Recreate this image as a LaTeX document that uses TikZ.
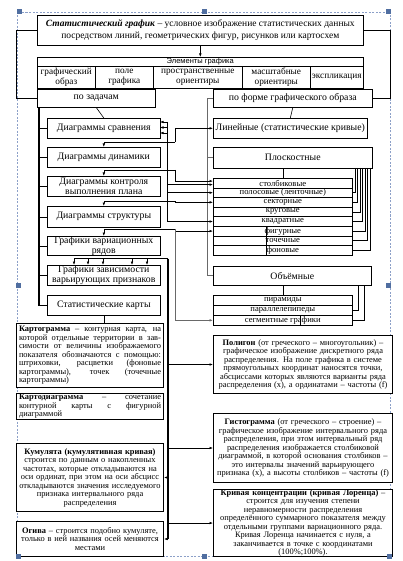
\documentclass[tikz,border=0pt]{standalone}
\usepackage{fontspec}
\setmainfont{Liberation Serif}
\newfontfamily\arialf{Liberation Sans}
\usetikzlibrary{arrows.meta,calc}
\definecolor{framec}{RGB}{140,160,200}
\definecolor{handlec}{RGB}{80,110,160}
\definecolor{gline}{RGB}{105,105,105}
\begin{document}
\begin{tikzpicture}[x=1pt,y=-1pt,
 box/.style={draw=black,line width=0.6pt,fill=white,inner sep=0pt,anchor=north west,align=center},
 lbox/.style={draw=black,line width=1pt,fill=white,inner xsep=2.5pt,inner ysep=0pt,anchor=north west},
 conn/.style={line width=0.6pt,black},
 arr/.style={conn,-{Latex[length=3.5pt,width=2.6pt]}},
 garr/.style={line width=1pt,gline,-{Latex[length=3.5pt,width=2.6pt]}},
 gconn/.style={line width=1pt,gline},
 heavy/.style={line width=1.4pt,black},
 fT/.style={font=\fontsize{9.5}{12}\selectfont},
 fE/.style={font=\fontsize{9.3}{9.8}\selectfont},
 fB/.style={font=\fontsize{9.8}{9.8}\selectfont},
 fR/.style={font=\fontsize{8.6}{9}\selectfont},
 fS/.style={font=\fontsize{8.4}{8.5}\selectfont},
 frame/.style={draw=framec,dash pattern=on 2pt off 1.5pt,line width=0.6pt},
 handle/.style={fill=handlec,draw=none,minimum size=5pt,inner sep=0pt}
]
\useasboundingbox (0,0) rectangle (403,561);
\fill[white] (0,0) rectangle (403,561);
\draw[frame] (17,12) rectangle (390,556);

% top
\node[box,fT,minimum width=326,minimum height=30] (title) at (37,15) {\textbf{\textit{Статистический график}} – условное изображение статистических данных\\посредством линий, геометрических фигур, рисунков или картосхем};
\node[box,minimum width=326,minimum height=9,font=\arialf\fontsize{7.5}{8}\selectfont] (hdr) at (37,57) {Элементы графика};
\node[box,fE,minimum width=58,minimum height=22] (c1) at (37,66) {графический\\образ};
\node[box,fE,minimum width=58,minimum height=22] (c2) at (95,66) {поле\\графика};
\node[box,fE,minimum width=89,minimum height=22] (c3) at (153,66) {пространственные\\ориентиры};
\node[box,fE,minimum width=68,minimum height=22] (c4) at (242,66) {масштабные\\ориентиры};
\node[box,fE,minimum width=53,minimum height=22] (c5) at (310,66) {экспликация};

% left column
\node[box,fB,minimum width=118,minimum height=18] (tasks) at (37,89) {по задачам};
\node[box,fB,minimum width=113,minimum height=20] (cmp) at (47,118) {Диаграммы сравнения};
\node[box,fB,minimum width=113,minimum height=20] (dyn) at (47,147) {Диаграммы динамики};
\node[box,fB,minimum width=113,minimum height=20] (ctl) at (47,176) {Диаграммы контроля\\выполнения плана};
\node[box,fB,minimum width=113,minimum height=21] (str) at (47,206) {Диаграммы структуры};
\node[box,fB,minimum width=113,minimum height=19] (var) at (47,236) {Графики вариационных\\рядов};
\node[box,fB,minimum width=113,minimum height=20] (dep) at (47,265) {Графики зависимости\\варьирующих признаков};
\node[box,fB,minimum width=113,minimum height=20] (maps) at (47,295) {Статистические карты};

% right column
\node[box,fB,minimum width=159,minimum height=18] (form) at (213,89) {по форме графического образа};
\node[box,fB,minimum width=154,minimum height=20] (lin) at (213,118) {Линейные (статистические  кривые)};
\node[box,fB,minimum width=159,minimum height=21] (pl) at (213,147) {Плоскостные};
\node[box,fR,minimum width=139,minimum height=9.6] (r1) at (213,178) {столбиковые};
\node[box,fR,minimum width=139,minimum height=9.6] (r2) at (213,187.6) {полосовые (ленточные)};
\node[box,fR,minimum width=139,minimum height=9.6] (r3) at (213,197.2) {секторные};
\node[box,fR,minimum width=139,minimum height=9.6] (r4) at (213,206.8) {круговые};
\node[box,fR,minimum width=139,minimum height=9.6] (r5) at (213,216.4) {квадратные};
\node[box,fR,minimum width=139,minimum height=9.6] (r6) at (213,226) {фигурные};
\node[box,fR,minimum width=139,minimum height=9.6] (r7) at (213,235.6) {точечные};
\node[box,fR,minimum width=139,minimum height=9.6] (r8) at (213,245.2) {фоновые};
\node[box,fB,minimum width=158,minimum height=19] (ob) at (213,266) {Объёмные};
\node[box,fR,minimum width=139,minimum height=10] (s1) at (213,295) {пирамиды};
\node[box,fR,minimum width=139,minimum height=10] (s2) at (213,305) {параллелепипеды};
\node[box,fR,minimum width=139,minimum height=10] (s3) at (213,315) {сегментные графики};

% lower boxes
\node[lbox,fS,text width=142,minimum height=64,align=justify] (kg) at (16,323) {\textbf{Картограмма} – контурная карта, на\linebreak которой отдельные территории в зав-\linebreak симости от величины изображаемого\linebreak показателя обозначаются с помощью:\linebreak штриховки, расцветки (фоновые\linebreak картограммы), точек (точечные\linebreak картограммы)};
\node[lbox,fS,text width=142,minimum height=26,align=justify] (kd) at (16,393) {\textbf{Картодиаграмма} – сочетание\linebreak контурной карты с фигурной\linebreak диаграммой};
\node[lbox,fS,text width=142,minimum height=68,align=center] (kum) at (16,443) {\textbf{Кумулята (кумулятивная кривая)}\\строится по данным о накопленных\\частотах, которые откладываются на\\оси ординат, при этом на оси абсцисс\\откладываются значения исследуемого\\признака интервального ряда\\распределения};
\node[lbox,fS,text width=142,minimum height=35,align=center] (og) at (16,521) {\textbf{Огива} – строится подобно кумуляте,\\только в ней названия осей меняются\\местами};
\node[lbox,fS,text width=174,minimum height=58,align=center] (pol) at (213,335) {\textbf{Полигон} (от греческого – многоугольник) –\\графическое изображение дискретного ряда\\распределения. На поле графика в  системе\\прямоугольных координат наносятся точки,\\абсциссами которых являются варианты ряда\\распределения (x), а ординатами – частоты (f)};
\node[lbox,fS,text width=174,minimum height=69,align=center] (gis) at (213,413) {\textbf{Гистограмма} (от греческого – строение) –\\графическое изображение интервального ряда\\распределения, при этом интервальный ряд\\распределения изображается столбиковой\\диаграммой, в которой основания столбиков –\\это интервалы значений варьирующего\\признака (x), а высоты столбиков – частоты (f)};
\node[lbox,fS,text width=174,minimum height=67,align=center] (kr) at (213,489) {\textbf{Кривая концентрации (кривая Лоренца)} –\\строится для изучения степени\\неравномерности распределения\\определённого суммарного показателя между\\отдельными группами вариационного ряда.\\Кривая Лоренца начинается с нуля, а\\заканчивается в точке с координатами\\(100\%;100\%).};

% connectors: top
\draw[arr] (title.south) -- (hdr.north);
\draw[conn] (title.west) -- ++(-21,0) |- (tasks.west);
\draw[conn] (title.east) -- ++(27,0) |- (form.east);

% left tree
\draw[conn] (tasks.south) -- (cmp.north);
\coordinate (lt) at (39,107);
\draw[heavy] (lt) -- (lt |- maps.west) -- (maps.west);
\foreach \n in {cmp,dyn,ctl,str,var,dep} \draw[conn] (lt |- \n.west) -- (\n.west);

% right tree
\draw[conn] (form.south) -- (lin.north);
\coordinate (rt) at (207,98);
\draw[gconn] (form.west) -- (rt |- form.west) |- (ob.west);
\draw[gconn] (rt |- pl.west) -- (pl.west);
\draw[conn] (r1.north |- pl.south) -- (r1.north);
\draw[conn] (s1.north |- ob.south) -- (s1.north);
\foreach \k/\xx in {2/355,3/357.5,4/360,5/362.5,6/365,7/367.5,8/370} \draw[conn] (\xx,168) |- (r\k.east);
\draw[conn] (358,285) |- (s2.east);
\draw[conn] (364,285) |- (s3.east);

% cross links
\coordinate (jA) at (175,142);
\draw[arr] (jA) -| (dyn.north);
\draw[arr] (jA) |- (lin.west);
\coordinate (jB) at (175,170);
\draw[arr] (jB) -| (ctl.north);
\draw[arr] (jB) |- ($(r1.west)+(0,-2)$);
\coordinate (jC) at (175,201);
\draw[arr] (jC) -| (str.north);
\draw[arr] (jC) |- (r3.west);
\coordinate (jD) at (175,229);
\draw[arr] (jD) -| (var.north);
\draw[arr] (jD) |- (r6.west);
\draw[garr] (jD) |- (s3.west);

\coordinate (eb) at (167,122);
\draw[conn] (eb) -- (eb |- r5.west);
\foreach \yy in {122,127.5,133} \draw[arr] (167,\yy) -- (160,\yy);
\draw[arr] ($(eb |- r1.west)+(0,1.5)$) -- ($(r1.west)+(0,1.5)$);
\draw[arr] (eb |- r2.west) -- (r2.west);
\draw[arr] (eb |- r5.west) -- (r5.west);

% variation series
\coordinate (bk) at (168,258.5);
\draw[conn] (74,258.5) -- (bk);
\foreach \xx in {74,88,103,132,147} \draw[arr] (\xx,258.5) -- (\xx,265);
\draw[heavy] (bk) -- (bk |- og.east);
\draw[arr] (bk |- pol.west) -- (pol.west);
\draw[arr] (bk |- gis.west) -- (gis.west);
\draw[arr] (bk |- kr.west) -- (kr.west);
\draw[arr] (bk |- kum.east) -- (kum.east);
\draw[arr] (bk |- og.east) -- (og.east);

\draw[conn] (maps.south) -- (maps.south |- kg.north);
\draw[conn] (266,226) -- (266,255);
\draw[conn] (300,315) -- (300,325);

% handles
\node[handle] (h1) at (19,12) {};
\node[handle] (h2) at (204,12) {};
\node[handle] (h3) at (388,12) {};
\node[handle] (h4) at (18,285) {};
\node[handle] (h5) at (388,285) {};
\node[handle] (h6) at (18,556) {};
\node[handle] (h7) at (204,556) {};
\node[handle] (h8) at (389,556) {};
\end{tikzpicture}
\end{document}
